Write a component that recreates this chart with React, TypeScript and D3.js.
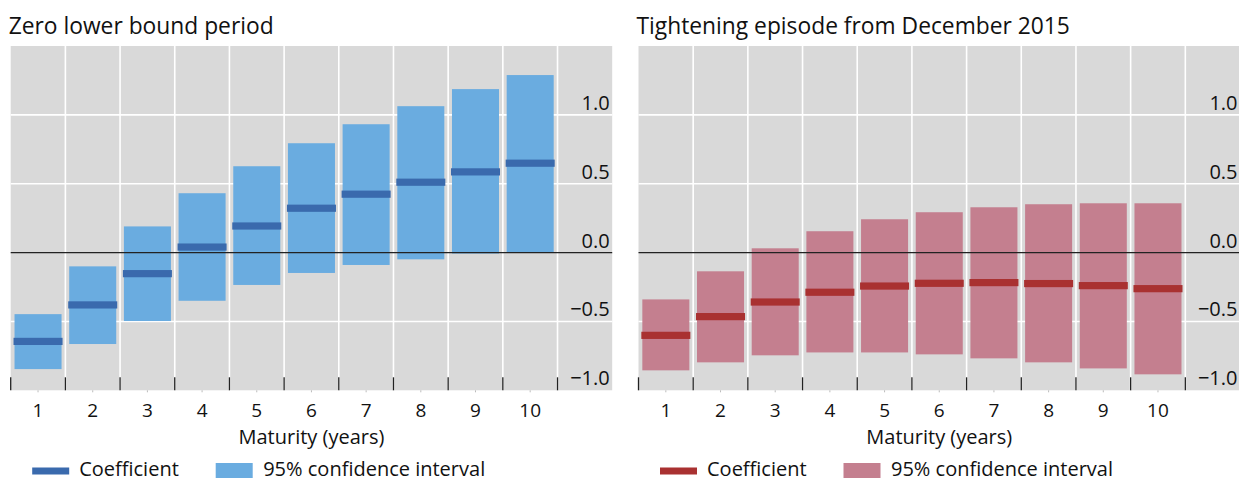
import React from "react";
import * as d3 from "d3";

const maturities = ["1", "2", "3", "4", "5", "6", "7", "8", "9", "10"];
const yTicks = [-1.0, -0.5, 0.0, 0.5, 1.0];

const zlbLower = [-0.846, -0.664, -0.497, -0.35, -0.235, -0.148, -0.09, -0.049, -0.007, 0.0];
const zlbUpper = [-0.447, -0.1, 0.19, 0.431, 0.627, 0.794, 0.932, 1.063, 1.187, 1.289];
const zlbCoef = [-0.645, -0.38, -0.153, 0.04, 0.193, 0.322, 0.424, 0.511, 0.586, 0.649];

const tightLower = [-0.855, -0.797, -0.746, -0.725, -0.725, -0.739, -0.768, -0.797, -0.841, -0.884];
const tightUpper = [-0.34, -0.136, 0.031, 0.155, 0.242, 0.293, 0.329, 0.351, 0.358, 0.358];
const tightCoef = [-0.601, -0.465, -0.359, -0.288, -0.243, -0.223, -0.218, -0.225, -0.24, -0.262];

const FONT = "'Open Sans', 'Noto Sans', sans-serif";

type PanelProps = {
  x0: number;
  title: string;
  lower: number[];
  upper: number[];
  coef: number[];
  ciColor: string;
  coefColor: string;
};

const W = 601.5;
const TOP = 46;
const BOTTOM = 390.3;

function Panel({ x0, title, lower, upper, coef, ciColor, coefColor }: PanelProps) {
  const keys = [...maturities, "_"];
  const x = d3.scaleBand<string>().domain(keys).range([x0, x0 + W]).padding(0);
  const xb = d3
    .scaleBand<string>()
    .domain(keys)
    .range([x0, x0 + W])
    .paddingInner(0.14)
    .paddingOuter(0.07);
  const y = d3.scaleLinear().domain([-1, 1.5]).range([BOTTOM, TOP]);
  const step = x.step();
  const bw = xb.bandwidth();
  const boundaries = d3.range(0, keys.length).map((i) => x0 + i * step);
  return (
    <g>
      <text x={x0 - 2} y={34} fontFamily={FONT} fontSize={22.8} fill="#111">
        {title}
      </text>
      <rect x={x0} y={TOP} width={W} height={BOTTOM - TOP} fill="#d9d9d9" />
      {yTicks
        .filter((t) => t !== 0 && t !== -1)
        .map((t) => (
          <line key={"h" + t} x1={x0} x2={x0 + W} y1={y(t)} y2={y(t)} stroke="#fff" strokeWidth={1.6} />
        ))}
      {boundaries.slice(1).map((bx, i) => (
        <line key={"v" + i} x1={bx} x2={bx} y1={TOP} y2={BOTTOM} stroke="#fff" strokeWidth={1.6} />
      ))}
      {maturities.map((m, i) => (
        <rect
          key={"ci" + m}
          x={xb(m)!}
          y={y(upper[i])}
          width={bw}
          height={y(lower[i]) - y(upper[i])}
          fill={ciColor}
        />
      ))}
      <line x1={x0} x2={x0 + W} y1={y(0)} y2={y(0)} stroke="#222" strokeWidth={1.4} />
      {maturities.map((m, i) => (
        <rect
          key={"cf" + m}
          x={xb(m)! - 1}
          y={y(coef[i]) - 3.6}
          width={bw + 2}
          height={7.2}
          fill={coefColor}
        />
      ))}
      {boundaries.map((bx, i) => (
        <line key={"t" + i} x1={bx} x2={bx} y1={BOTTOM - 13} y2={BOTTOM} stroke="#222" strokeWidth={1.3} />
      ))}
      {maturities.map((m) => (
        <line
          key={"mt" + m}
          x1={x(m)! + step / 2}
          x2={x(m)! + step / 2}
          y1={BOTTOM}
          y2={BOTTOM + 2}
          stroke="#bbb"
          strokeWidth={1}
        />
      ))}
      {yTicks.map((t) => (
        <text
          key={"yl" + t}
          x={x0 + W - 2.5}
          y={y(t) - 5}
          textAnchor="end"
          fontFamily={FONT}
          fontSize={20}
          fill="#111"
        >
          {t < 0 ? "\u2212" + Math.abs(t).toFixed(1) : t.toFixed(1)}
        </text>
      ))}
      {maturities.map((m) => (
        <text
          key={"xl" + m}
          x={x(m)! + step / 2}
          y={417}
          textAnchor="middle"
          fontFamily={FONT}
          fontSize={19}
          fill="#111"
        >
          {m}
        </text>
      ))}
      <text x={x0 + W / 2} y={444} textAnchor="middle" fontFamily={FONT} fontSize={20} fill="#111">
        Maturity (years)
      </text>
      <rect x={x0 + 21.5} y={467.5} width={37} height={7} fill={coefColor} />
      <text x={x0 + 68.5} y={475.5} fontFamily={FONT} fontSize={20} fill="#111">
        Coefficient
      </text>
      <rect x={x0 + 205} y={463} width={37} height={15} fill={ciColor} />
      <text x={x0 + 252.5} y={475.5} fontFamily={FONT} fontSize={20} fill="#111">
        95% confidence interval
      </text>
    </g>
  );
}

export default function App() {
  return (
    <svg
      width={1239}
      height={481}
      style={{ position: "absolute", left: 0, top: 0, background: "#fff" }}
    >
      <rect width={1239} height={481} fill="#fff" />
      <Panel
        x0={10.7}
        title="Zero lower bound period"
        lower={zlbLower}
        upper={zlbUpper}
        coef={zlbCoef}
        ciColor="#6aace0"
        coefColor="#3a6aad"
      />
      <Panel
        x0={638.5}
        title="Tightening episode from December 2015"
        lower={tightLower}
        upper={tightUpper}
        coef={tightCoef}
        ciColor="#c47f8f"
        coefColor="#a93131"
      />
    </svg>
  );
}
